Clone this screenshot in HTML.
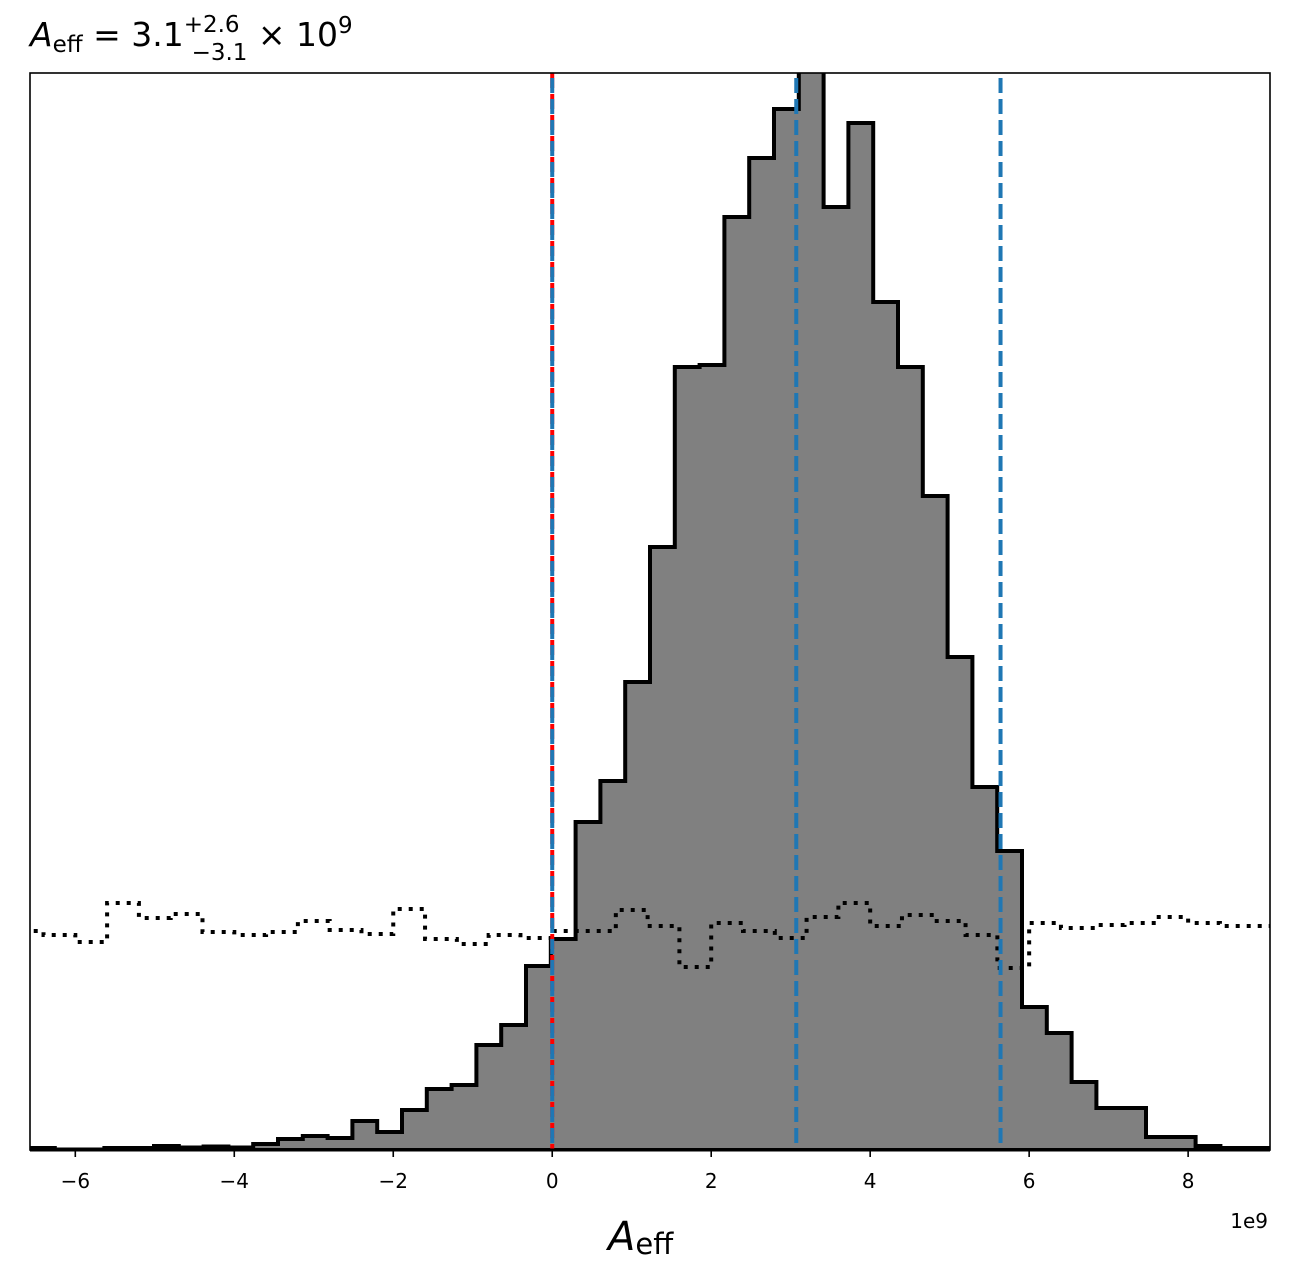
<!DOCTYPE html>
<html><head><meta charset="utf-8"><style>
html,body{margin:0;padding:0;background:#fff;}
svg{display:block;font-family:"DejaVu Sans","Liberation Sans",sans-serif;}
</style></head><body>
<svg id="chart" width="1289" height="1278" viewBox="0 0 1289 1278" xmlns="http://www.w3.org/2000/svg">
<rect x="0" y="0" width="1289" height="1278" fill="#fff"/>
<text x="30" y="46" font-size="33" fill="#000"><tspan font-style="italic">A</tspan><tspan font-size="23" dy="6">eff</tspan><tspan dy="-6"> = 3.1</tspan><tspan font-size="23" dy="-14">+2.6</tspan><tspan font-size="23" dx="-48" dy="28">−3.1</tspan><tspan dy="-14"> × 10</tspan><tspan font-size="23" dy="-13">9</tspan></text>
<g id="plot"></g>
<text x="608" y="1250" font-size="40" fill="#000"><tspan font-style="italic">A</tspan><tspan font-size="29" dy="4">eff</tspan></text>
<text x="1268" y="1228" font-size="20" text-anchor="end" fill="#000">1e9</text>
</svg>
<script>
// posterior histogram: 50 bins from -6.57e9 to 9.03e9
const postStart = -6.57;
const postWidth = 0.312;
const postCounts = [2,0.5,0.5,2,2,4,2.5,3.5,2.5,6,11,14,12,29,18,40,61,65,105,125,184,211,328,369,468,603,783,785,933,992,1041,1080,943,1027,848,783,654,493,363,299,143,117,68,42,42,13,13,4,2,2];
// prior histogram: bins of 0.4e9 from -6.8e9
const priorStart = -6.8;
const priorWidth = 0.4;
const priorCounts = [219,215,208,247,232,236,218,215,218,229,220,216,241,211,206,215,212,219,219,240,224,183,227,219,212,233,247,224,235,229,215,182,227,222,225,227,233,227,224,224];
// quantile lines (1e9)
const quantiles = [0.0, 3.07, 5.64];
const trueValue = [0.0];
const xTicks = [-6,-4,-2,0,2,4,6,8];
const xTickLabels = ["−6","−4","−2","0","2","4","6","8"];

const L=30,R=1270,T=73,B=1150;
const xMin=-6.57,xMax=9.03,yMax=1077;
const xs=v=>L+(v-xMin)/(xMax-xMin)*(R-L);
const ys=v=>B-v/yMax*(B-T);
const NS="http://www.w3.org/2000/svg";
const g=document.getElementById('plot');
function mk(tag,attrs){const e=document.createElementNS(NS,tag);for(const k in attrs)e.setAttribute(k,attrs[k]);return e;}

const defs=mk('defs',{});const cp=mk('clipPath',{id:'clip'});cp.appendChild(mk('rect',{x:L,y:T,width:R-L,height:B-T}));defs.appendChild(cp);g.appendChild(defs);
const inner=mk('g',{'clip-path':'url(#clip)'});g.appendChild(inner);

function stepPath(start,w,vals,closed){
  let d='';
  if(closed)d+='M'+xs(start)+','+ys(0);
  vals.forEach((v,i)=>{const x0=xs(start+i*w),x1=xs(start+(i+1)*w);
    d+=(d===''?'M':'L')+x0+','+ys(v)+'L'+x1+','+ys(v);});
  if(closed)d+='L'+xs(start+vals.length*w)+','+ys(0)+'Z';
  return d;
}
const fill=mk('path',{d:stepPath(postStart,postWidth,postCounts,true),fill:'#808080',stroke:'none'});


inner.appendChild(fill);
const outline=mk('path',{d:stepPath(postStart,postWidth,postCounts,true),fill:'none',stroke:'#000','stroke-width':4,'stroke-linejoin':'miter'});


inner.appendChild(outline);
const prior=mk('path',{d:stepPath(priorStart,priorWidth,priorCounts,false),fill:'none',stroke:'#000','stroke-width':4,'stroke-dasharray':'4,7'});


inner.appendChild(prior);

trueValue.forEach(v=>{const l=mk('line',{x1:xs(v),x2:xs(v),y1:T,y2:B,stroke:'#ff0000','stroke-width':4,'stroke-dasharray':'15,6'});
  
  
  inner.appendChild(l);});
quantiles.forEach(v=>{const l=mk('line',{x1:xs(v),x2:xs(v),y1:T,y2:B,stroke:'#1f77b4','stroke-width':4,'stroke-dasharray':'15,6','stroke-dashoffset':'-5'});
  
  
  inner.appendChild(l);});

const frame=mk('rect',{x:L,y:T,width:R-L,height:B-T,fill:'none',stroke:'#000','stroke-width':1.6});


g.appendChild(frame);
const base=mk('line',{x1:L,x2:R,y1:B,y2:B,stroke:'#000','stroke-width':3});


g.appendChild(base);

xTicks.forEach((t,i)=>{const x=xs(t);
  const tk=mk('line',{x1:x,x2:x,y1:B,y2:B+7,stroke:'#000','stroke-width':1.6});
  
  
  g.appendChild(tk);
  const tx=mk('text',{x:x,y:B+38,'font-size':20,'text-anchor':'middle',fill:'#000'});
  tx.textContent=xTickLabels[i];
  
  
  g.appendChild(tx);});
</script>
</body></html>
